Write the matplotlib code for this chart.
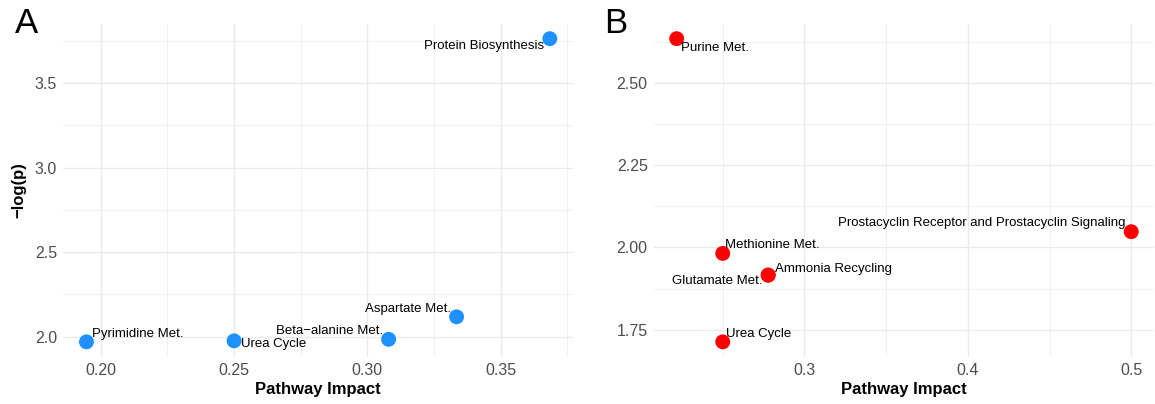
import numpy as np
import matplotlib
matplotlib.use('Agg')
import matplotlib.pyplot as plt
from matplotlib.ticker import MultipleLocator, FormatStrFormatter

plt.rcParams['font.family'] = ['Liberation Sans', 'DejaVu Sans']

# Panel A: pathways enriched in the first comparison
a_pathways = ['Protein Biosynthesis', 'Aspartate Met.', 'Beta\u2212alanine Met.',
              'Urea Cycle', 'Pyrimidine Met.']
a_impact = [0.3685, 0.3335, 0.308, 0.25, 0.1946]
a_logp = [3.762, 2.118, 1.985, 1.976, 1.970]

# Panel B: pathways enriched in the second comparison
b_pathways = ['Purine Met.', 'Prostacyclin Receptor and Prostacyclin Signaling',
              'Methionine Met.', 'Ammonia Recycling', 'Glutamate Met.', 'Urea Cycle']
b_impact = [0.2218, 0.5, 0.25, 0.2778, 0.2778, 0.25]
b_logp = [2.635, 2.048, 1.982, 1.916, 1.916, 1.713]

# label placement (offset in points, horizontal alignment), repel-style
a_offsets = [(-3.8, -5.3, 'right'), (-4.3, 5.3, 'right'), (-4.0, 6.0, 'right'),
             (5.0, -2.4, 'left'), (4.0, 6.0, 'left')]
b_offsets = [(3.1, -6.5, 'left'), (-3.8, 6.0, 'right'), (1.9, 6.0, 'left'),
             (4.8, 4.3, 'left'), (-4.0, -4.5, 'right'), (2.4, 5.3, 'left')]

grid_col = '#EBEBEB'
tick_col = '#4D4D4D'


def expand(vals, frac=0.05):
    lo, hi = min(vals), max(vals)
    pad = (hi - lo) * frac
    return lo - pad, hi + pad


def draw_panel(ax, names, x, y, offsets, colour, xmaj, xmin, ymaj, ymin, xfmt, yfmt):
    ax.scatter(x, y, s=115, color=colour, edgecolors='none', zorder=3)
    for name, xi, yi, (dx, dy, ha) in zip(names, x, y, offsets):
        ax.annotate(name, (xi, yi), xytext=(dx, dy), textcoords='offset points',
                    ha=ha, va='center', fontsize=9.5, color='black', zorder=4)

    ax.set_xlim(*expand(x))
    ax.set_ylim(*expand(y))
    ax.xaxis.set_major_locator(MultipleLocator(xmaj))
    ax.xaxis.set_minor_locator(MultipleLocator(xmin))
    ax.yaxis.set_major_locator(MultipleLocator(ymaj))
    ax.yaxis.set_minor_locator(MultipleLocator(ymin))
    ax.xaxis.set_major_formatter(FormatStrFormatter(xfmt))
    ax.yaxis.set_major_formatter(FormatStrFormatter(yfmt))

    ax.grid(which='major', color=grid_col, linewidth=1.0)
    ax.grid(which='minor', color=grid_col, linewidth=0.5)
    ax.set_axisbelow(True)
    for sp in ax.spines.values():
        sp.set_visible(False)
    ax.tick_params(which='both', length=0, labelsize=11.5, labelcolor=tick_col, pad=4.5)
    ax.set_xlabel('Pathway Impact', fontsize=12, fontweight='bold', labelpad=3)


fig = plt.figure(figsize=(11.55, 4.04), dpi=100)
ax_a = fig.add_axes([0.0548, 0.1163, 0.4413, 0.8255])
ax_b = fig.add_axes([0.5662, 0.1163, 0.4329, 0.8255])

draw_panel(ax_a, a_pathways, a_impact, a_logp, a_offsets, '#1E90FF',
           0.05, 0.025, 0.5, 0.25, '%.2f', '%.1f')
draw_panel(ax_b, b_pathways, b_impact, b_logp, b_offsets, '#FF0000',
           0.1, 0.05, 0.25, 0.125, '%.1f', '%.2f')

ax_a.set_ylabel('\u2212log(p)', fontsize=12, fontweight='bold', labelpad=6)

fig.text(0.013, 0.9176, 'A', fontsize=25, va='baseline', ha='left')
fig.text(0.5232, 0.9176, 'B', fontsize=25, va='baseline', ha='left')

fig.savefig('out.png', dpi=100)
